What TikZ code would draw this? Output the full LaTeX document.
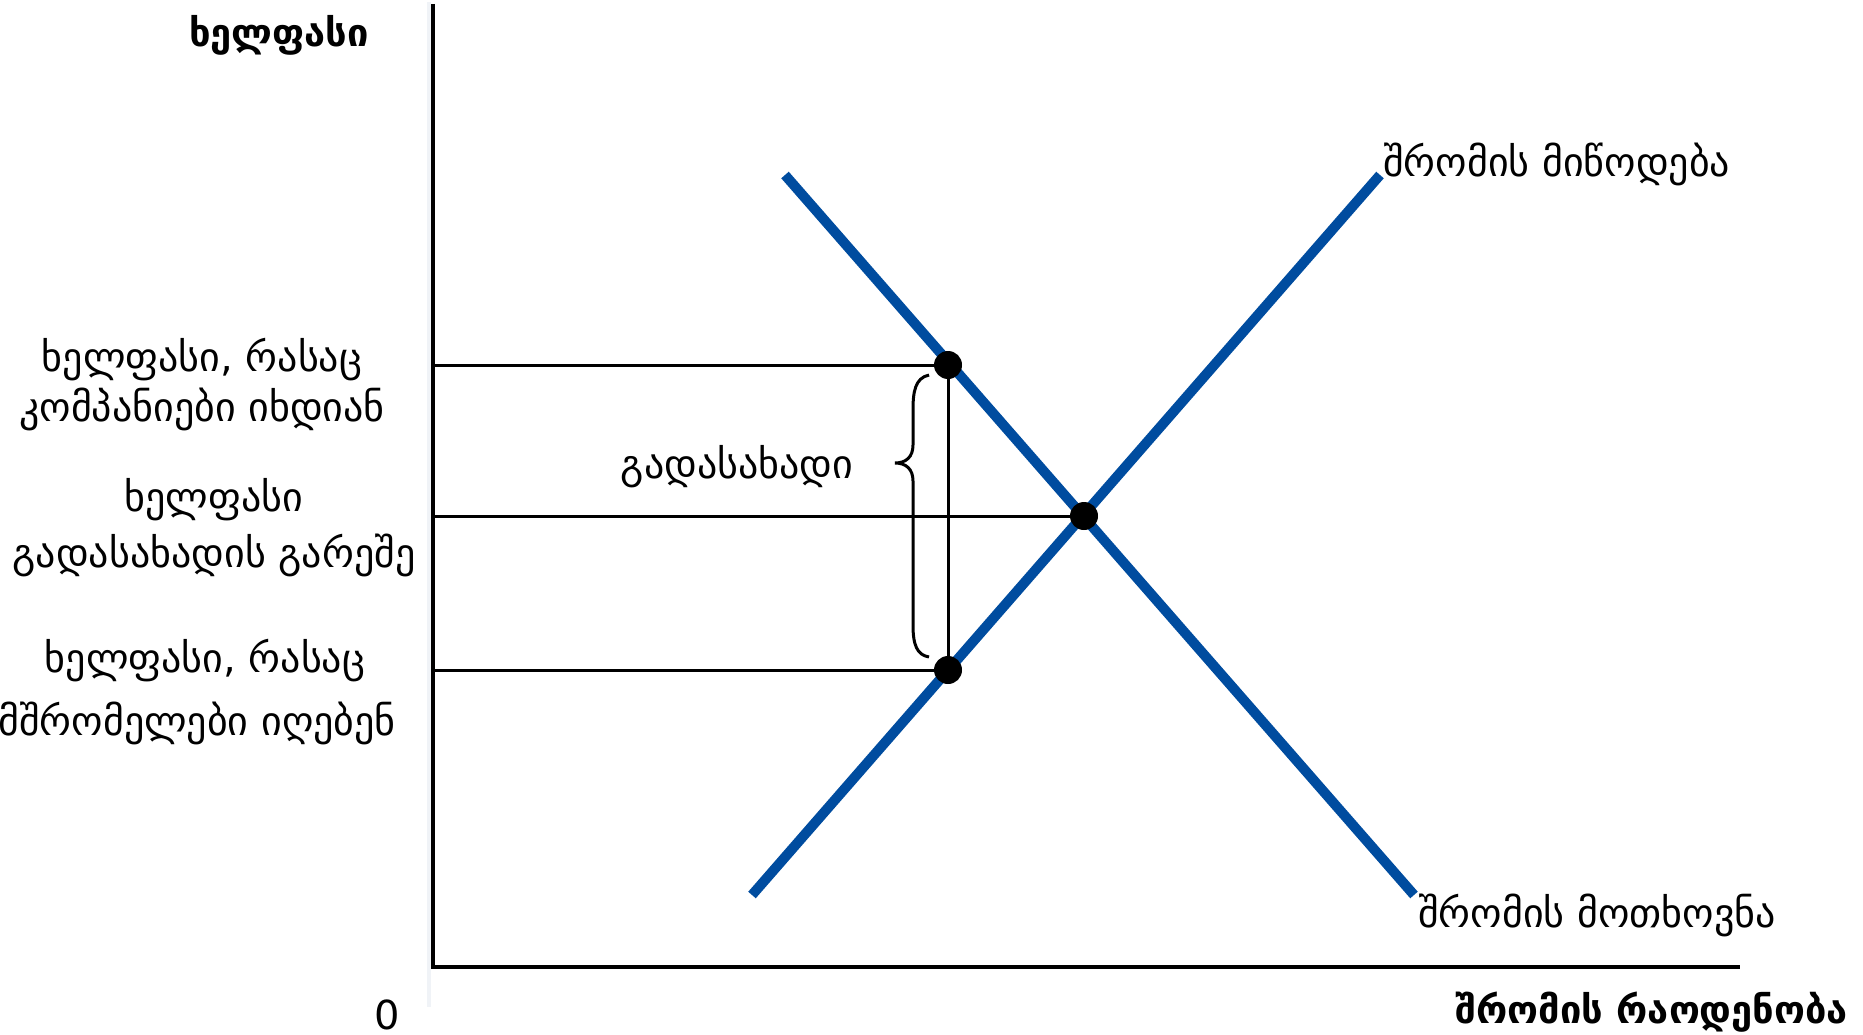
\documentclass[tikz,border=0pt]{standalone}
\usepackage{fontspec}
\setmainfont{DejaVu Sans}
\definecolor{curveblue}{RGB}{0,76,159}
\definecolor{stripgray}{RGB}{240,243,247}
\begin{document}
\begin{tikzpicture}[x=1pt,y=-1pt,
  axis/.style={line width=4pt},
  guide/.style={line width=3pt},
  curve/.style={line width=10pt,curveblue},
  dot/.style={circle,fill=black,inner sep=0pt,minimum size=28pt},
  lbl/.style={font=\fontsize{40}{48}\selectfont,inner sep=0pt,anchor=base},
  blbl/.style={font=\fontsize{38}{46}\selectfont\bfseries,inner sep=0pt,anchor=base}]
\useasboundingbox (0,0) rectangle (1863,1035);
\fill[stripgray] (427,2) rectangle (431,1007);
% axes
\coordinate (ytop) at (433,4);
\coordinate (orig) at (433,967);
\coordinate (xend) at (1740,967);
\draw[axis] (ytop) -- (433,969);
\draw[axis] (431,967) -- (xend);
% curves
\coordinate (s1) at (752,895);
\coordinate (s2) at (1380,175);
\coordinate (d1) at (785,175);
\coordinate (d2) at (1414,895);
\draw[curve] (s1) -- (s2);
\draw[curve] (d1) -- (d2);
% guide lines
\coordinate (g1) at (433,365);
\coordinate (g2) at (433,516);
\coordinate (g3) at (433,670);
\node[dot] (up) at (948,365) {};
\node[dot] (eq) at (1084,516) {};
\node[dot] (lo) at (948,670) {};
\draw[guide] (g1) -- (up.center);
\draw[guide] (g2) -- (eq.center);
\draw[guide] (g3) -- (lo.center);
\draw[guide] (up.center) -- (lo.center);
% brace
\draw[guide] (929,375) .. controls (915,378) and (913,392) .. (913,410) -- (913,445)
  .. controls (913,457) and (906,463) .. (895,463)
  .. controls (906,463) and (913,469) .. (913,481) -- (913,625)
  .. controls (913,645) and (917,655) .. (929,657);
\node[lbl] (tax) at (737,478) {გადასახადი};
% labels
\node[blbl] (ylab) at (279,47) {ხელფასი};
\node[blbl,anchor=base east] (xlab) at (1848,1023) {შრომის რაოდენობა};
\node[lbl] (zero) at (387,1029) {0};
\node[lbl,anchor=base west] (sup) at (1383,177) {შრომის მიწოდება};
\node[lbl,anchor=base west] (dem) at (1418,927) {შრომის მოთხოვნა};
\node[lbl] (a1) at (202,371) {ხელფასი, რასაც};
\node[lbl] (a2) at (202,421) {კომპანიები იხდიან};
\node[lbl] (b1) at (214,511) {ხელფასი};
\node[lbl] (b2) at (214,567) {გადასახადის გარეშე};
\node[lbl] (c1) at (205,672) {ხელფასი, რასაც};
\node[lbl] (c2) at (197,735) {მშრომელები იღებენ};
\end{tikzpicture}
\end{document}
